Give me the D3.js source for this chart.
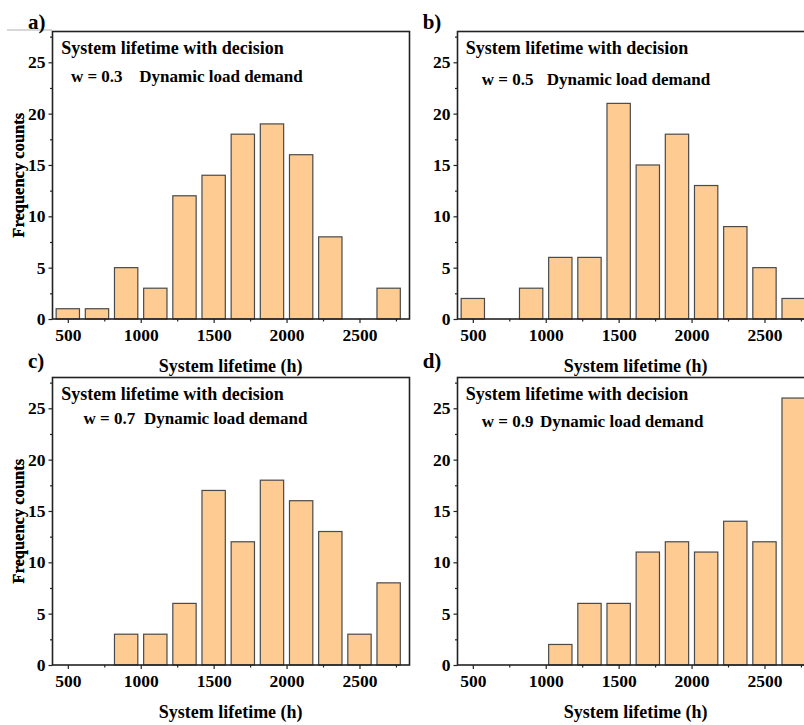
<!DOCTYPE html>
<html><head><meta charset="utf-8">
<script src="https://cdn.jsdelivr.net/npm/d3@7"></script>
<style>
body{margin:0;background:#fff;}
text{font-family:"Liberation Serif","Times New Roman",serif;font-weight:bold;fill:#000;}
</style></head>
<body><svg id="chart" width="804" height="725"></svg>
<script>
// ---- data ----
const binCenters = [500,700,900,1100,1300,1500,1700,1900,2100,2300,2500,2700];
const countsA = [1,1,5,3,12,14,18,19,16,8,0,3];
const countsB = [2,0,3,6,6,21,15,18,13,9,5,2];
const countsC = [0,0,3,3,6,17,12,18,16,13,3,8];
const countsD = [0,0,0,2,6,6,11,12,11,14,12,26];
const panelLetters = ["a)","b)","c)","d)"];
const weights = ["w = 0.3","w = 0.5","w = 0.7","w = 0.9"];
const xTicks = [500,1000,1500,2000,2500];
const xMinorTicks = [750,1250,1750,2250,2750];
const yTicks = [0,5,10,15,20,25];
const yMinorTicks = [2.5,7.5,12.5,17.5,22.5,27.5];
const barWidthH = 160;

// ---- layout ----
const svg = d3.select("#chart");
const W = 357, H = 287.5;
const panels = [
  {counts:countsA, left:52.5, top:31.5, lab:[28,22], l1:[8.7,16.5], w:[18.4,44.5], dyn:86.8},
  {counts:countsB, left:457.5, top:31.5, lab:[422.7,21.5], l1:[8.2,16.5], w:[24.2,47.5], dyn:89.2},
  {counts:countsC, left:52.5, top:377.5, lab:[28,361], l1:[8.7,16.5], w:[31,40.5], dyn:91.5},
  {counts:countsD, left:457.5, top:377.5, lab:[422.7,361], l1:[8.2,16.5], w:[24.2,44], dyn:82.5}
];

const x = d3.scaleLinear().domain([395,2843]).range([0,W]);
const y = d3.scaleLinear().domain([0,28]).range([H,0]);

// thin gray line top-left
svg.append("line").attr("x1",7).attr("x2",52).attr("y1",30).attr("y2",30)
  .attr("stroke","#b0b0b0").attr("stroke-width",1);

panels.forEach((p,i)=>{
  const g = svg.append("g").attr("transform",`translate(${p.left},${p.top})`);
  // bars
  g.selectAll("rect.bar").data(binCenters.map((c,k)=>({c, v:p.counts[k]})).filter(d=>d.v>0))
    .enter().append("rect").attr("class","bar")
    .attr("x",d=>x(d.c-barWidthH/2)).attr("width",d=>x(d.c+barWidthH/2)-x(d.c-barWidthH/2))
    .attr("y",d=>y(d.v)).attr("height",d=>y(0)-y(d.v))
    .attr("fill","#fecc92").attr("stroke","#4a4a4a").attr("stroke-width",1.2);

  // axes
  const xAx = g.append("g").attr("transform",`translate(0,${H})`)
    .call(d3.axisBottom(x).tickValues(xTicks).tickSize(4).tickPadding(6).tickFormat(d3.format("d")));
  g.append("g").attr("transform",`translate(0,${H})`)
    .call(d3.axisBottom(x).tickValues(xMinorTicks).tickSize(2.5).tickFormat(""))
    .select(".domain").remove();
  const yAx = g.append("g")
    .call(d3.axisLeft(y).tickValues(yTicks).tickSize(4).tickPadding(3));
  g.append("g").call(d3.axisLeft(y).tickValues(yMinorTicks).tickSize(2.5).tickFormat(""))
    .select(".domain").remove();
  g.selectAll(".domain").remove();
  g.selectAll(".tick line").attr("stroke","#222").attr("stroke-width",1.2);
  [xAx,yAx].forEach(a=>a.selectAll("text").style("font-size","17.5px")
    .style("font-family","Liberation Serif").style("font-weight","bold"));

  // frame
  g.append("rect").attr("x",0).attr("y",0).attr("width",W).attr("height",H)
    .attr("fill","none").attr("stroke","#222").attr("stroke-width",1.6);

  // axis titles
  g.append("text").attr("x",x(1500)+17).attr("y",H+47).attr("text-anchor","middle")
    .attr("dominant-baseline","central").style("font-size","18px").text("System lifetime (h)");
  g.append("text").attr("transform",`translate(${18-p.left},${H/2}) rotate(-90)`)
    .attr("text-anchor","middle").attr("dominant-baseline","central")
    .style("font-size","16.5px").text("Frequency counts");

  // annotations
  g.append("text").attr("x",p.l1[0]).attr("y",p.l1[1]).attr("dominant-baseline","central")
    .style("font-size","18px").text("System lifetime with decision");
  g.append("text").attr("x",p.w[0]).attr("y",p.w[1]).attr("dominant-baseline","central")
    .style("font-size","17px").text(weights[i]);
  g.append("text").attr("x",p.dyn).attr("y",p.w[1]).attr("dominant-baseline","central")
    .style("font-size","17px").text("Dynamic load demand");

  // panel letter
  svg.append("text").attr("x",p.lab[0]).attr("y",p.lab[1]).attr("dominant-baseline","central")
    .style("font-size","21px").text(panelLetters[i]);
});
</script></body></html>
